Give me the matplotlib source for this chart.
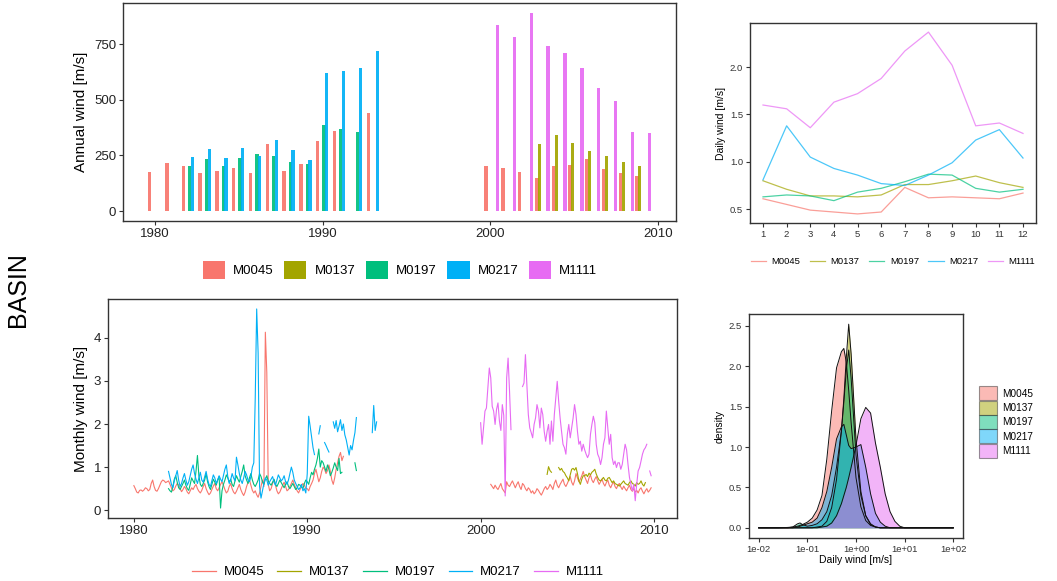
import numpy as np
import matplotlib
matplotlib.use('Agg')
import matplotlib.pyplot as plt
from matplotlib.patches import Patch
from matplotlib.lines import Line2D

plt.rcParams['font.family'] = ['Liberation Sans', 'DejaVu Sans']

STATIONS = ['M0045', 'M0137', 'M0197', 'M0217', 'M1111']
COLORS = ['#F8766D', '#A3A500', '#00BF7D', '#00B0F6', '#E76BF3']

# ---- annual wind (sum of daily values), date of each accumulation period
ANNUAL_DATE_M0045 = [1979.7, 1980.72, 1981.7, 1982.7, 1983.7, 1984.7, 1985.7, 1986.7, 1987.7,
                     1988.72, 1989.7, 1990.7, 1992.72, 1999.74, 2000.74, 2001.74, 2002.78,
                     2003.74, 2004.74, 2005.74, 2006.74, 2007.74, 2008.74]
ANNUAL_M0045 = [177, 214, 204, 172, 181, 195, 172, 303, 181, 210, 316, 358, 442,
                204, 195, 177, 149, 204, 208, 232, 190, 171, 157]
ANNUAL_DATE_M0137 = [2002.92, 2003.92, 2004.9, 2005.9, 2006.92, 2007.92, 2008.9]
ANNUAL_M0137 = [302, 340, 306, 270, 246, 219, 204]
ANNUAL_DATE_M0197 = [1982.08, 1983.08, 1984.08, 1985.08, 1986.08, 1987.08, 1988.08,
                     1989.08, 1990.08, 1991.08, 1992.08]
ANNUAL_M0197 = [204, 232, 204, 238, 256, 247, 219, 210, 385, 368, 354]
ANNUAL_DATE_M0217 = [1982.24, 1983.24, 1984.24, 1985.24, 1986.24, 1987.24, 1988.24,
                     1989.24, 1990.24, 1991.24, 1992.24, 1993.28]
ANNUAL_M0217 = [243, 280, 238, 285, 247, 321, 274, 229, 620, 628, 642, 721]
ANNUAL_DATE_M1111 = [2000.42, 2001.43, 2002.44, 2003.43, 2004.45, 2005.45, 2006.45,
                     2007.44, 2008.46, 2009.46]
ANNUAL_M1111 = [837, 781, 890, 740, 711, 642, 553, 493, 354, 349]

# ---- monthly mean wind, segments of (start year, start month) + values
M0045_MONTHLY = [
    ((1980, 1), [0.57, 0.50, 0.42, 0.40, 0.46, 0.47, 0.44, 0.47, 0.52, 0.50, 0.45, 0.48,
                 0.62, 0.70, 0.55, 0.46, 0.44, 0.50, 0.58, 0.66, 0.70, 0.68, 0.64, 0.66,
                 0.68, 0.60, 0.52, 0.45, 0.48, 0.56, 0.62, 0.58, 0.50, 0.43, 0.48, 0.55,
                 0.50, 0.42, 0.38, 0.45, 0.52, 0.48, 0.55, 0.60, 0.50, 0.44, 0.40, 0.46,
                 0.55, 0.62, 0.50, 0.42, 0.36, 0.40, 0.48, 0.56, 0.62, 0.50, 0.45, 0.52,
                 0.60, 0.66, 0.58, 0.48, 0.40, 0.44, 0.55, 0.62, 0.50, 0.42, 0.38, 0.44,
                 0.52, 0.60, 0.48, 0.40, 0.34, 0.42, 0.55, 0.64, 0.70, 0.58, 0.46, 0.40,
                 0.45, 0.36, 0.30, 0.40, 0.55, 0.70, 0.55, 4.13, 3.20, 0.60, 0.45, 0.50,
                 0.62, 0.70, 0.58, 0.45, 0.38, 0.42, 0.50, 0.58, 0.65, 0.55, 0.45, 0.48,
                 0.55, 0.62, 0.70, 0.60, 0.52, 0.45, 0.40, 0.48, 0.55, 0.62, 0.58, 0.50,
                 0.50, 0.45, 0.55, 0.62, 0.70, 0.85, 0.95, 0.80, 0.66, 0.75, 0.90, 1.00,
                 0.95, 0.85, 0.92, 1.05, 0.90, 0.70, 0.60, 0.75, 0.95, 1.10, 1.25, 1.34,
                 1.15, 1.25]),
    ((2000, 8), [0.60, 0.55, 0.50, 0.58, 0.52,
                 0.48, 0.55, 0.62, 0.50, 0.45, 0.40, 0.66, 0.58, 0.55, 0.62, 0.68, 0.60,
                 0.52, 0.60, 0.66, 0.55, 0.48, 0.62, 0.58, 0.50, 0.45, 0.52, 0.48, 0.40,
                 0.45, 0.38, 0.42, 0.50, 0.46, 0.40, 0.35, 0.42, 0.50, 0.55, 0.48, 0.52,
                 0.60, 0.55, 0.48, 0.62, 0.70, 0.58, 0.52, 0.60, 0.66, 0.72, 0.60, 0.55,
                 0.62, 0.70, 0.78, 0.65, 0.58, 0.68, 0.85, 0.75, 0.66, 0.72, 0.80, 0.90,
                 0.78, 0.70, 0.62, 0.75, 0.82, 0.70, 0.64, 0.72, 0.78, 0.68, 0.60, 0.66,
                 0.72, 0.62, 0.56, 0.64, 0.70, 0.58, 0.52, 0.60, 0.66, 0.55, 0.50, 0.58,
                 0.62, 0.54, 0.48, 0.56, 0.50, 0.45, 0.52, 0.58, 0.48, 0.44, 0.50, 0.42,
                 0.46, 0.40, 0.48, 0.52, 0.44, 0.38, 0.45, 0.50, 0.42, 0.46, 0.52]),
]
M0137_MONTHLY = [
    ((2003, 11), [0.83, 1.01, 0.92, 0.88]),
    ((2004, 7), [0.99, 0.93, 0.97, 0.90, 0.87, 0.80,
                 0.75, 0.68, 0.82, 0.95, 0.97, 0.93, 0.99, 0.85, 0.68, 0.60, 0.72, 0.80,
                 0.80, 0.83, 0.78, 0.86, 0.82, 0.88, 0.91, 0.95, 0.84, 0.76, 0.70, 0.68,
                 0.72, 0.76, 0.70, 0.68, 0.74, 0.76, 0.70, 0.64, 0.68, 0.62, 0.60, 0.58,
                 0.56, 0.60, 0.64, 0.68, 0.62, 0.60, 0.58, 0.64, 0.68, 0.62, 0.60, 0.56,
                 0.64, 0.60, 0.62, 0.68, 0.60, 0.56, 0.64]),
]
M0197_MONTHLY = [
    ((1982, 1), [0.50, 0.45, 0.42, 0.55, 0.72, 0.80, 0.65, 0.52, 0.48, 0.55, 0.62, 0.70,
                 0.58, 0.50, 0.46, 0.60, 0.75, 0.68, 0.62, 0.90, 1.27, 0.80, 0.60, 0.55,
                 0.62, 0.70, 0.85, 0.66, 0.55, 0.48, 0.60, 0.72, 0.65, 0.58, 0.70, 0.78,
                 0.05, 0.45, 0.60, 0.70, 0.82, 0.75, 0.65, 0.72, 0.60, 0.55, 0.68, 0.80,
                 0.72, 0.65, 0.78, 0.90, 1.05, 0.80, 0.70, 0.62, 0.75, 0.85, 0.70, 0.60,
                 0.55, 0.62, 0.70, 0.85, 0.78, 0.66, 0.60, 0.72, 0.80, 0.68, 0.62, 0.58,
                 0.65, 0.72, 0.60, 0.55, 0.62, 0.70, 0.64, 0.58, 0.52, 0.60, 0.66, 0.55,
                 0.50, 0.56, 0.62, 0.55, 0.48, 0.52, 0.60, 0.58, 0.54, 0.50, 0.62, 0.70,
                 0.66, 0.60, 0.75, 0.88, 0.82, 0.95, 1.05, 1.20, 1.42, 1.00, 1.15, 1.10,
                 1.00, 0.90, 1.05, 0.95, 0.80, 0.88, 0.98, 1.10, 1.00, 0.92, 1.20, 0.85,
                 0.88]),
    ((1992, 10), [1.10, 0.92]),
]
M0217_MONTHLY = [
    ((1982, 1), [0.90, 0.75, 0.60, 0.52, 0.68, 0.80, 0.92, 0.70, 0.55, 0.62, 0.75, 0.85,
                 0.70, 0.58, 0.66, 0.80, 0.95, 1.05, 0.85, 0.72, 0.62, 0.75, 0.88, 0.70,
                 0.65, 0.78, 0.90, 0.72, 0.60, 0.55, 0.68, 0.82, 0.75, 0.62, 0.70, 0.80,
                 0.72, 0.66, 0.80, 0.95, 1.05, 0.78, 0.62, 0.70, 0.85, 0.75, 0.68, 1.23,
                 1.05, 0.85, 0.70, 0.62, 0.75, 0.90, 0.82, 0.70, 0.66, 0.78, 1.00, 1.10,
                 2.60, 4.67, 3.65, 0.55, 0.28, 0.45, 0.62, 0.75, 0.70, 0.58, 0.66, 0.72,
                 0.78, 0.66, 0.58, 0.70, 0.82, 0.75, 0.68, 0.72, 0.80, 0.66, 0.60, 0.70,
                 0.85, 1.00, 0.88, 0.70, 0.62, 0.55, 0.48, 0.52, 0.60, 0.45, 0.50, 0.40,
                 0.85, 2.18, 1.95, 1.70, 1.45, 1.29]),
    ((1990, 9), [1.77, 1.96]),
    ((1991, 1), [1.57, 1.50, 1.42, 1.35]),
    ((1991, 7), [2.05, 1.90, 2.08, 1.82, 1.95, 2.10, 1.85, 2.00, 1.75, 1.63, 1.45, 1.28,
                 1.50, 1.40, 1.62, 1.80, 2.15]),
    ((1993, 10), [1.80, 2.43, 1.85, 2.05]),
]
M1111_MONTHLY = [
    ((2000, 1), [2.03, 1.53, 1.91, 2.30, 2.37, 2.84, 3.30, 3.07, 2.41, 2.30, 1.99, 2.34,
                 2.49, 2.07, 1.85, 2.45, 2.20, 0.33, 3.07, 3.53, 2.76, 1.87]),
    ((2002, 6), [2.87, 2.95, 3.61, 2.91, 2.22, 1.91, 1.80,
                 1.68, 1.99, 2.14, 2.45, 2.30, 1.91, 2.37, 2.22, 1.83, 1.60, 1.83, 1.99,
                 1.53, 2.07, 1.60, 2.22, 2.60, 2.99, 2.53, 2.14, 1.83, 1.53, 1.45, 1.30,
                 1.76, 1.99, 1.68, 1.91, 2.14, 2.45, 2.22, 1.83, 1.53, 1.60, 1.37, 1.53,
                 1.40, 1.30, 1.22, 1.30, 1.76, 1.99, 2.18, 2.03, 1.53, 1.30, 1.22, 1.06,
                 1.22, 1.53, 1.68, 2.30, 1.91, 1.53, 1.76, 1.22, 1.06, 1.14, 0.99, 1.10,
                 1.10, 0.95, 1.06, 1.30, 1.53, 1.40, 1.06, 0.76, 0.60, 0.45, 0.60, 0.22,
                 0.60, 0.91, 0.99, 1.14, 1.30, 1.40, 1.45, 1.53]),
    ((2009, 10), [0.91, 0.80]),
]

# ---- mean daily wind per calendar month
MONTHS = list(range(1, 13))
DAILY_M0045 = [0.61, 0.55, 0.49, 0.47, 0.45, 0.47, 0.73, 0.62, 0.63, 0.62, 0.61, 0.67]
DAILY_M0137 = [0.80, 0.71, 0.64, 0.64, 0.63, 0.65, 0.76, 0.76, 0.80, 0.85, 0.78, 0.73]
DAILY_M0197 = [0.63, 0.65, 0.64, 0.59, 0.68, 0.72, 0.79, 0.87, 0.86, 0.72, 0.68, 0.71]
DAILY_M0217 = [0.81, 1.38, 1.05, 0.93, 0.86, 0.77, 0.75, 0.86, 0.99, 1.23, 1.34, 1.04]
DAILY_M1111 = [1.60, 1.56, 1.36, 1.63, 1.72, 1.88, 2.17, 2.37, 2.02, 1.38, 1.41, 1.30]

# ---- density of daily wind, on a log10 wind grid
LOG_WIND = [-2.0, -1.6, -1.4, -1.3, -1.2, -1.15, -1.1, -1.0, -0.9, -0.8, -0.7, -0.6,
            -0.5, -0.4, -0.3, -0.25, -0.2, -0.15, -0.1, 0.0, 0.1, 0.2, 0.3, 0.4,
            0.5, 0.6, 0.7, 0.8, 0.9, 1.0, 1.2, 2.0]
DENS_M0045 = [0, 0, 0.005, 0.01, 0.02, 0.03, 0.04, 0.07, 0.12, 0.22, 0.40, 0.85,
              1.45, 1.98, 2.18, 2.22, 2.05, 1.70, 1.30, 0.62, 0.26, 0.09, 0.03, 0.01,
              0, 0, 0, 0, 0, 0, 0, 0]
DENS_M0137 = [0, 0, 0, 0, 0, 0, 0, 0, 0, 0.01, 0.02, 0.08,
              0.25, 0.60, 1.20, 1.60, 2.10, 2.52, 2.15, 1.10, 0.45, 0.15, 0.04, 0.01,
              0, 0, 0, 0, 0, 0, 0, 0]
DENS_M0197 = [0, 0, 0, 0.01, 0.05, 0.06, 0.04, 0.02, 0.03, 0.05, 0.10, 0.20,
              0.40, 0.75, 1.20, 1.55, 1.95, 2.20, 1.85, 0.90, 0.40, 0.15, 0.05, 0.01,
              0, 0, 0, 0, 0, 0, 0, 0]
DENS_M0217 = [0, 0, 0, 0, 0.01, 0.02, 0.03, 0.05, 0.07, 0.12, 0.25, 0.45,
              0.75, 1.10, 1.25, 1.28, 1.15, 1.02, 0.98, 1.00, 1.03, 0.75, 0.42, 0.18,
              0.07, 0.02, 0, 0, 0, 0, 0, 0]
DENS_M1111 = [0, 0, 0, 0, 0, 0, 0, 0, 0, 0, 0.01, 0.02,
              0.06, 0.15, 0.30, 0.40, 0.50, 0.62, 0.75, 1.02, 1.35, 1.49, 1.42, 1.05,
              0.75, 0.42, 0.20, 0.08, 0.02, 0, 0, 0]

annual_dates = [ANNUAL_DATE_M0045, ANNUAL_DATE_M0137, ANNUAL_DATE_M0197, ANNUAL_DATE_M0217, ANNUAL_DATE_M1111]
annual_vals = [ANNUAL_M0045, ANNUAL_M0137, ANNUAL_M0197, ANNUAL_M0217, ANNUAL_M1111]
monthly_segs = [M0045_MONTHLY, M0137_MONTHLY, M0197_MONTHLY, M0217_MONTHLY, M1111_MONTHLY]
daily_vals = [DAILY_M0045, DAILY_M0137, DAILY_M0197, DAILY_M0217, DAILY_M1111]
dens_vals = [DENS_M0045, DENS_M0137, DENS_M0197, DENS_M0217, DENS_M1111]


def monthly_series(segments):
    xs, ys = [], []
    for (yr, mo), vals in segments:
        t = yr + (mo - 1) / 12 + np.arange(len(vals)) / 12
        xs += list(t) + [np.nan]
        ys += list(vals) + [np.nan]
    return np.array(xs), np.array(ys)


def expand(lo, hi, f=0.05):
    d = (hi - lo) * f
    return lo - d, hi + d


def style(ax, labelsize, labelcolor):
    for s in ax.spines.values():
        s.set_color('#333333')
        s.set_linewidth(1.0)
    ax.tick_params(axis='both', direction='out', length=3, width=0.8, color='#333333',
                   labelsize=labelsize, labelcolor=labelcolor, pad=2)
    ax.minorticks_off()


W, H = 1057, 581
fig = plt.figure(figsize=(W / 100, H / 100), dpi=100)


def px_axes(l, t, r, b):
    return fig.add_axes([l / W, 1 - b / H, (r - l) / W, (b - t) / H])


BAR_W = 0.2

# top-left: annual bars
ax1 = px_axes(123, 3, 676, 221)
for d, v, c in zip(annual_dates, annual_vals, COLORS):
    ax1.bar(d, v, width=BAR_W, color=c, alpha=0.92, linewidth=0)
all_d = np.concatenate([np.array(d) for d in annual_dates])
all_v = np.concatenate([np.array(v) for v in annual_vals])
ax1.set_xlim(*expand(all_d.min() - BAR_W / 2, all_d.max() + BAR_W / 2))
ax1.set_ylim(*expand(0, all_v.max()))
ax1.set_xticks([1980, 1990, 2000, 2010])
ax1.set_yticks([0, 250, 500, 750])
ax1.set_ylabel('Annual wind [m/s]', fontsize=11, labelpad=4)
style(ax1, 9.5, '#222222')

fig.legend([Patch(facecolor=c) for c in COLORS], STATIONS, loc='center',
           bbox_to_anchor=(400 / W, 1 - 270 / H), ncol=5, frameon=False, fontsize=9.5,
           handlelength=1.7, handleheight=1.7, handletextpad=0.6, columnspacing=0.8)

# bottom-left: monthly lines
ax2 = px_axes(108, 299, 677, 518)
xmin, xmax, ymin, ymax = np.inf, -np.inf, np.inf, -np.inf
for segs, c in zip(monthly_segs, COLORS):
    x, y = monthly_series(segs)
    ax2.plot(x, y, color=c, linewidth=0.8)
    xmin, xmax = min(xmin, np.nanmin(x)), max(xmax, np.nanmax(x))
    ymin, ymax = min(ymin, np.nanmin(y)), max(ymax, np.nanmax(y))
xmax = 2009 + 10 / 12
ax2.set_xlim(*expand(xmin, xmax))
ax2.set_ylim(*expand(ymin, ymax))
ax2.set_xticks([1980, 1990, 2000, 2010])
ax2.set_yticks([0, 1, 2, 3, 4])
ax2.set_ylabel('Monthly wind [m/s]', fontsize=11, labelpad=4)
style(ax2, 9.5, '#222222')

fig.legend([Line2D([], [], color=c, lw=0.9) for c in COLORS], STATIONS, loc='center',
           bbox_to_anchor=(398 / W, 1 - 572 / H), ncol=5, frameon=False, fontsize=9.5,
           handlelength=1.8, handletextpad=0.6, columnspacing=1.0)

# top-right: daily wind per month
ax3 = px_axes(750, 23, 1036, 223)
for v, c in zip(daily_vals, COLORS):
    ax3.plot(MONTHS, v, color=c, linewidth=0.9, alpha=0.7)
dv = np.array(daily_vals)
ax3.set_xlim(0.45, 12.55)
ax3.set_ylim(*expand(dv.min(), dv.max()))
ax3.set_xticks(MONTHS)
ax3.set_yticks([0.5, 1.0, 1.5, 2.0])
ax3.set_yticklabels(['0.5', '1.0', '1.5', '2.0'])
ax3.set_ylabel('Daily wind [m/s]', fontsize=7.5, labelpad=3)
style(ax3, 6.8, '#333333')

fig.legend([Line2D([], [], color=c, lw=0.9, alpha=0.7) for c in COLORS], STATIONS,
           loc='center', bbox_to_anchor=(893 / W, 1 - 262 / H), ncol=5, frameon=False,
           fontsize=6.8, handlelength=1.6, handletextpad=0.6, columnspacing=1.0)

# bottom-right: density on log scale
ax4 = px_axes(749, 314, 963, 538)
wind = 10 ** np.array(LOG_WIND)
for v, c in zip(dens_vals, COLORS):
    ax4.fill_between(wind, v, 0, color=c, alpha=0.5, linewidth=0)
    ax4.plot(wind, v, color='#111111', linewidth=0.7)
ax4.set_xscale('log')
lo, hi = expand(LOG_WIND[0], LOG_WIND[-1])
ax4.set_xlim(10 ** lo, 10 ** hi)
ax4.set_ylim(*expand(0, np.array(dens_vals).max()))
ticks = [1e-2, 1e-1, 1e0, 1e1, 1e2]
ax4.set_xticks(ticks)
ax4.set_xticklabels([f'{t:.0e}' for t in ticks])
ax4.set_yticks([0, 0.5, 1.0, 1.5, 2.0, 2.5])
ax4.set_yticklabels(['0.0', '0.5', '1.0', '1.5', '2.0', '2.5'])
ax4.set_xlabel('Daily wind [m/s]', fontsize=7.5, labelpad=1)
ax4.set_ylabel('density', fontsize=7.5, labelpad=3)
style(ax4, 6.8, '#333333')

fig.legend([Patch(facecolor=c, alpha=0.5, edgecolor='#333333', linewidth=0.8) for c in COLORS],
           STATIONS, loc='center left', bbox_to_anchor=(970 / W, 1 - 422 / H), ncol=1,
           frameon=False, fontsize=7.2, handlelength=1.75, handleheight=1.75,
           handletextpad=0.6, labelspacing=0.05)

fig.text(18 / W, 1 - 290 / H, 'BASIN', rotation=90, fontsize=18, ha='center', va='center')

fig.savefig('out.png', dpi=100)
